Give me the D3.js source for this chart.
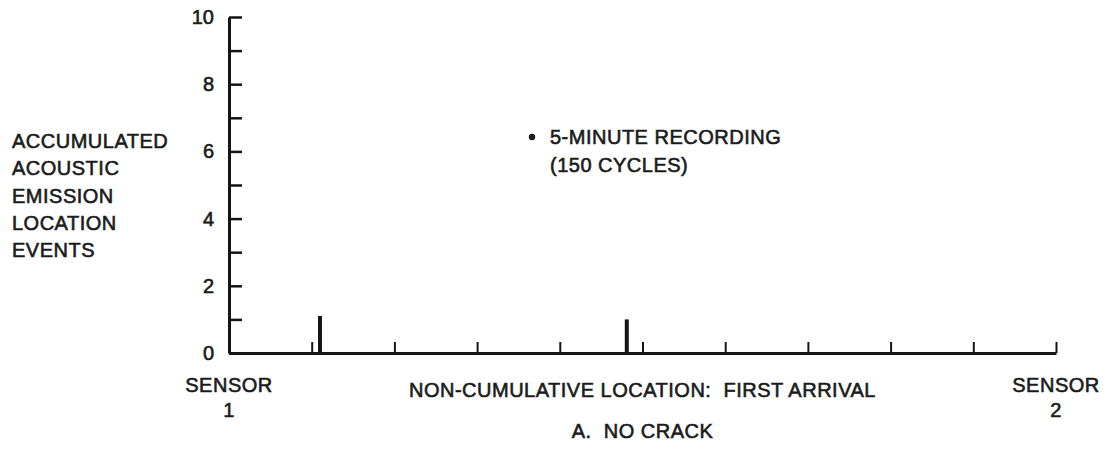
<!DOCTYPE html>
<html>
<head>
<meta charset="utf-8">
<script src="https://cdn.jsdelivr.net/npm/d3@7"></script>
<style>
  body { margin: 0; background: #fff; }
  text { font-family: "Liberation Sans", Arial, Helvetica, sans-serif; fill: #1b1b1b; stroke: #1b1b1b; stroke-width: 0.6px; }
</style>
</head>
<body>
<script>
// events located along the sensor spacing (0 = sensor 1, 10 = sensor 2)
const locations = [1.1, 4.81];
const events = [1.1, 1.0];
const yTicks = [0, 1, 2, 3, 4, 5, 6, 7, 8, 9, 10];
const xTicks = [1, 2, 3, 4, 5, 6, 7, 8, 9, 10];
const yLabelLines = ['ACCUMULATED', 'ACOUSTIC', 'EMISSION', 'LOCATION', 'EVENTS'];
const legendLines = ['5-MINUTE RECORDING', '(150 CYCLES)'];

const [width, height] = [1112, 450];

const svg = d3.select('body')
  .append('svg')
  .attr('width', width)
  .attr('height', height);

const x = d3.scaleLinear().domain([0, 10]).range([229, 1056]);
const y = d3.scaleLinear().domain([0, 10]).range([353, 17]);

// y axis: ticks point inward, labels only on even values
const gy = svg.append('g')
  .attr('transform', `translate(${x(0)},0)`)
  .call(d3.axisLeft(y)
    .tickValues(yTicks)
    .tickSizeInner(-13)
    .tickSizeOuter(0)
    .tickPadding(15)
    .tickFormat(d => d % 2 === 0 ? d : ''));
gy.select('.domain').attr('stroke', '#151515').attr('stroke-width', 3);
gy.selectAll('.tick line').attr('stroke', '#151515').attr('stroke-width', 2.5);
gy.selectAll('.tick text')
  .style('font-size', '20px')
  .style('font-family', '"Liberation Sans", Arial, sans-serif')
  .attr('fill', '#1b1b1b')
  .attr('stroke', '#1b1b1b')
  .attr('stroke-width', 0.6);

// x axis: ticks point upward, no labels
const gx = svg.append('g')
  .attr('transform', `translate(0,${y(0)})`)
  .call(d3.axisBottom(x)
    .tickValues(xTicks)
    .tickSizeInner(-11)
    .tickSizeOuter(0)
    .tickFormat(''));
gx.select('.domain').attr('stroke', '#151515').attr('stroke-width', 3);
gx.selectAll('.tick line').attr('stroke', '#151515').attr('stroke-width', 2);

// event bars
svg.append('g')
  .selectAll('line')
  .data(locations)
  .enter()
  .append('line')
  .attr('x1', d => x(d))
  .attr('x2', d => x(d))
  .attr('y1', y(0))
  .attr('y2', (d, i) => y(events[i]))
  .attr('stroke', '#151515')
  .attr('stroke-width', 4);

// y axis title
svg.append('text')
  .attr('x', 12)
  .attr('y', 148)
  .style('font-size', '20px')
  .style('letter-spacing', '0.5px')
  .selectAll('tspan')
  .data(yLabelLines)
  .enter()
  .append('tspan')
  .attr('x', 12)
  .attr('dy', (d, i) => i === 0 ? 0 : 27.3)
  .text(d => d);

// legend note
svg.append('circle')
  .attr('cx', 532)
  .attr('cy', 137)
  .attr('r', 3.2)
  .attr('fill', '#1b1b1b');
svg.append('g')
  .selectAll('text')
  .data(legendLines)
  .enter()
  .append('text')
  .attr('x', 550)
  .attr('y', (d, i) => 144 + i * 27.5)
  .style('font-size', '20px')
  .style('letter-spacing', '0.5px')
  .text(d => d);

// bottom labels
const bottom = [
  {t: 'SENSOR', x: x(0), y: 392},
  {t: '1', x: x(0), y: 417},
  {t: 'SENSOR', x: x(10), y: 392},
  {t: '2', x: x(10), y: 417},
  {t: 'NON-CUMULATIVE LOCATION:  FIRST ARRIVAL', x: x(5), y: 397},
  {t: 'A.  NO CRACK', x: x(5), y: 438}
];
svg.append('g')
  .selectAll('text')
  .data(bottom)
  .enter()
  .append('text')
  .attr('x', d => d.x)
  .attr('y', d => d.y)
  .attr('text-anchor', 'middle')
  .style('font-size', '20px')
  .style('letter-spacing', '0.5px')
  .style('white-space', 'pre')
  .text(d => d.t);
</script>
</body>
</html>
